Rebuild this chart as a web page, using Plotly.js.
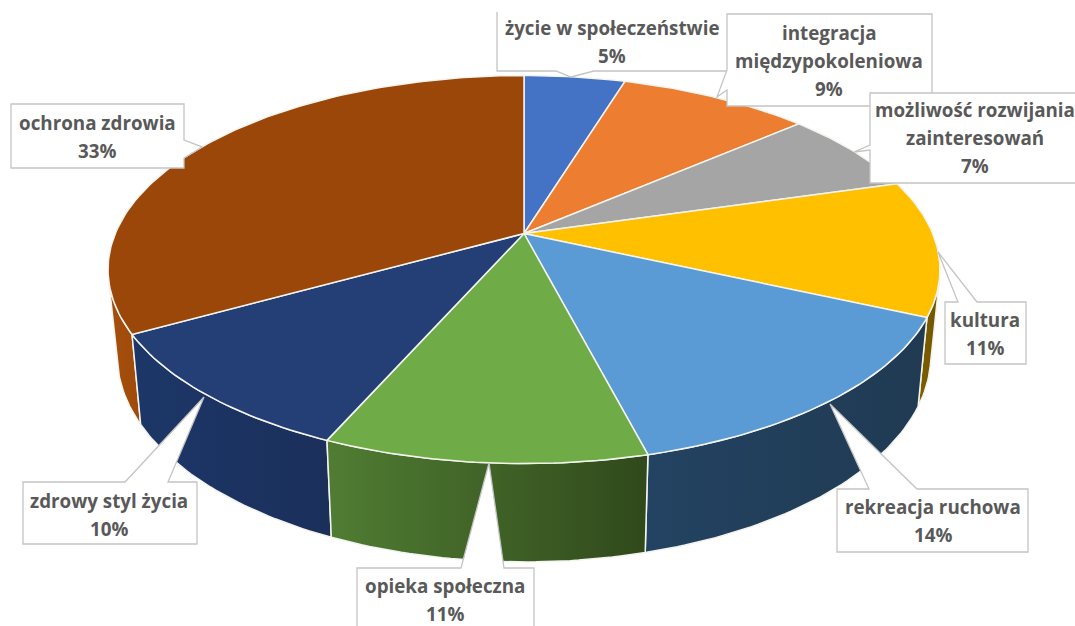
<!DOCTYPE html>
<html><head><meta charset="utf-8">
<script src="https://cdn.plot.ly/plotly-3.0.1.min.js"></script>
<style>html,body{margin:0;padding:0;background:#fff;overflow:hidden}#c{width:1075px;height:626px}</style>
</head><body><div id="c"></div>
<script>
var categories = ["życie w społeczeństwie","integracja|międzypokoleniowa","możliwość rozwijania|zainteresowań","kultura","rekreacja ruchowa","opieka społeczna","zdrowy styl życia","ochrona zdrowia"];
var values = [4.7,8.9,6.9,11.3,14.2,10.55,10.3,33.15];
var topColors = ["#4472C4","#ED7D31","#A5A5A5","#FFC000","#5B9BD5","#6FAB46","#243F76","#9A4709"];
var wallLeft = ["#2F528F","#AE5A21","#7B7B7B","#7F6000","#234362","#507D33","#1C3768","#A54E0C"];
var wallRight = ["#2F528F","#AE5A21","#7B7B7B","#6E5300","#203A52","#30491B","#1B2F5A","#A04A0A"];
var textCenters = [[612,28],[829,33],[975,110],[985,320],[933,507],[445,586],[109,501],[97,123]];

// projection of the pie disc
var cx=524, cy=233.5, R=408.7, H=187.3, K=0.1857, DROP=83.5, SY=1.065, SX=0.978;
function topPt(f){var t=f*2*Math.PI,u=Math.sin(t),v=Math.cos(t),w=1+K*v;return [cx+R*u/w, cy-H*v/w];}
function botPt(p){return [cx+(p[0]-cx)*SX, cy+DROP+(p[1]-cy)*SY];}
var total=values.reduce(function(a,b){return a+b;},0), cum=0, slices=[];
values.forEach(function(v,i){
  var a=cum/total; cum+=v; var b=cum/total, arc=[], n=Math.max(8,Math.round((b-a)*360));
  for(var k=0;k<=n;k++) arc.push(topPt(a+(b-a)*k/n));
  slices.push({i:i,arc:arc,mid:Math.cos((a+b)*Math.PI)});
});
var traces=[];
function xs(a){return a.map(function(p){return p[0];});}
function ys(a){return a.map(function(p){return p[1];});}
// only the part of the rim that faces the viewer
function frontArc(arc){
  var out=[];
  for(var k=0;k<arc.length-1;k++){
    var p=arc[k],q=arc[k+1],b=botPt(p);
    if((q[0]-p[0])*(b[1]-p[1])-(q[1]-p[1])*(b[0]-p[0])<0){
      if(!out.length||out[out.length-1]!==p) out.push(p);
      out.push(q);
    }
  }
  return out;
}
// walls, back to front
slices.slice().sort(function(p,q){return q.mid-p.mid;}).forEach(function(s){
  var rim=frontArc(s.arc);
  if(rim.length<2) return;
  var poly=rim.concat(rim.slice().reverse().map(botPt)); poly.push(rim[0]);
  traces.push({type:'scatter',mode:'lines',x:xs(poly),y:ys(poly),fill:'toself',
    line:{color:'#F2F4EE',width:1.5},
    fillgradient:{type:'horizontal',colorscale:[[0,wallLeft[s.i]],[1,wallRight[s.i]]]},
    hoverinfo:'skip',showlegend:false});
});
// top faces
slices.forEach(function(s){
  var poly=[[cx,cy]].concat(s.arc); poly.push([cx,cy]);
  traces.push({type:'scatter',mode:'lines',x:xs(poly),y:ys(poly),fill:'toself',fillcolor:topColors[s.i],
    line:{color:'#F4F4EE',width:1.5},name:categories[s.i].replace('|',' '),
    hoverinfo:'name',showlegend:false});
});
// callout outlines, painted in this order
var callouts=[
 "M497,12 L497,71 L556,71 L571,77 L594,71 L730,71",
 "M727,14 L727,70 L717,97 L727,90 L727,106 L932,106 L932,14 Z",
 "M870,93 L870,145 L854,152 L870,150 L870,183 L1085,183 L1085,93 Z",
 "M945,302 L958,302 L938,252 L977,302 L1026,302 L1026,364 L945,364 Z",
 "M837,489 L869,489 L830,404 L917,489 L1028,489 L1028,552 L837,552 Z",
 "M357,568 L461,568 L489,463 L504,568 L534,568 L534,635 L357,635 Z",
 "M23,482 L125,482 L204,397 L168,482 L197,482 L197,544 L23,544 Z",
 "M11,104 L184,104 L184,140 L202,147 L184,158 L184,168 L11,168 Z"
];
var shapes=callouts.map(function(p){return {type:'path',path:p,layer:'above',xref:'x',yref:'y',
  fillcolor:'#FFFFFF',line:{color:'#C4C4C4',width:1.3}};});
var annotations=[];
categories.forEach(function(c,i){
  var lines=c.split('|').concat([Math.round(values[i])+'%']);
  lines.forEach(function(t,j){
    annotations.push({text:t,x:textCenters[i][0],y:textCenters[i][1]+j*28,xref:'x',yref:'y',showarrow:false,
      xanchor:'center',yanchor:'middle',font:{family:'"Open Sans",sans-serif',size:18.8,color:'#595959',weight:700}});
  });
});
Plotly.newPlot('c',traces,{
  width:1075,height:626,margin:{l:0,r:0,t:0,b:0},paper_bgcolor:'#fff',plot_bgcolor:'#fff',showlegend:false,
  xaxis:{range:[0,1075],visible:false,fixedrange:true},
  yaxis:{range:[626,0],visible:false,fixedrange:true},
  shapes:shapes,annotations:annotations
},{displayModeBar:false,staticPlot:false});
</script></body></html>
